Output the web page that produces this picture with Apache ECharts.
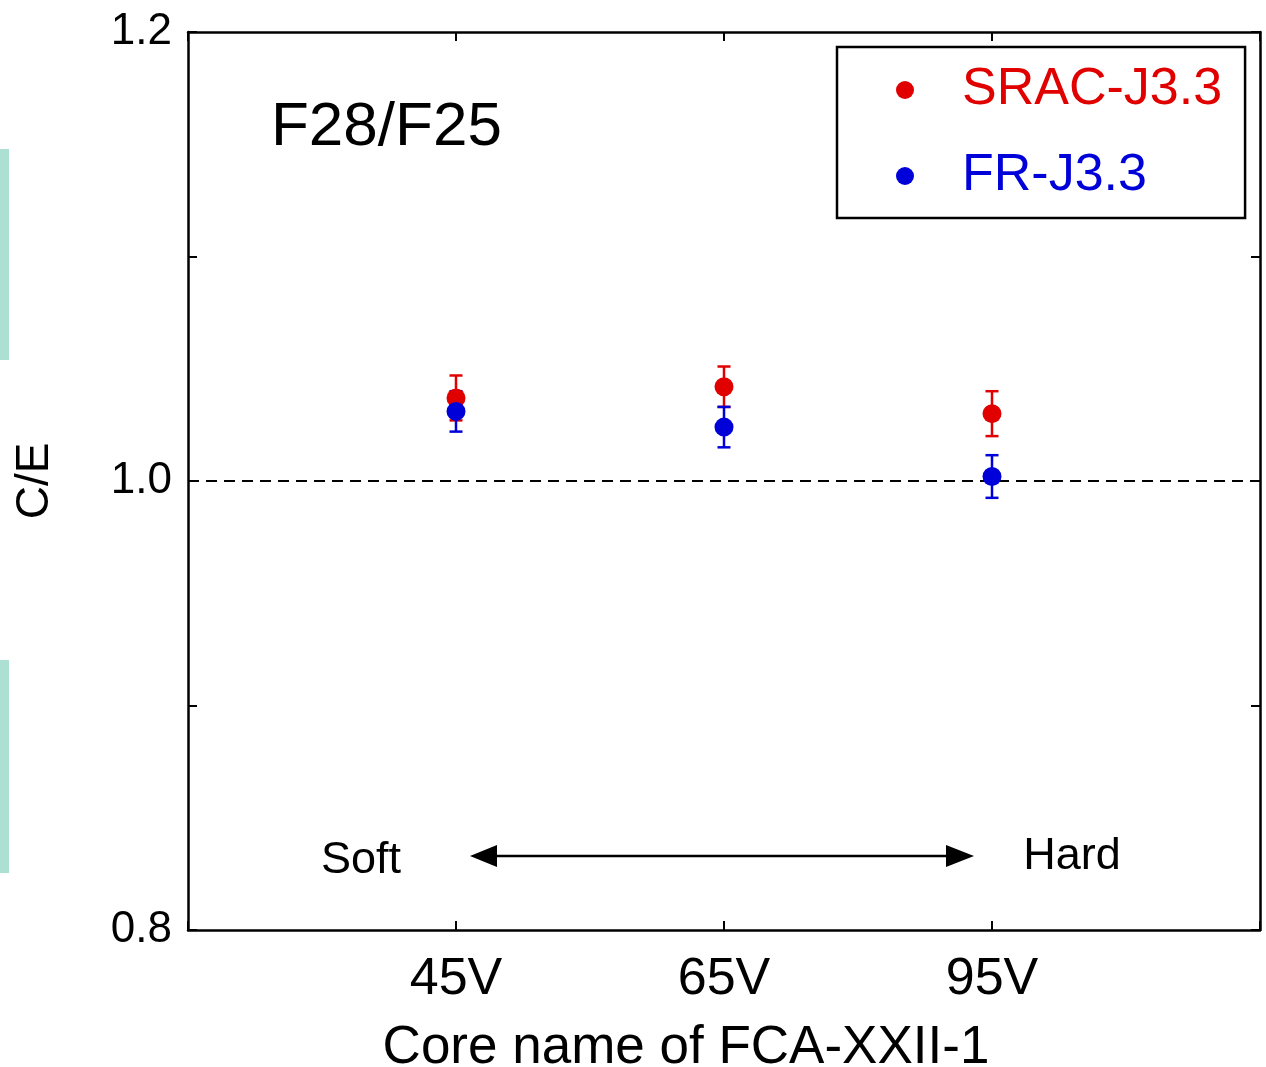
<!DOCTYPE html>
<html>
<head>
<meta charset="utf-8">
<script src="https://cdn.jsdelivr.net/npm/echarts@6/dist/echarts.min.js"></script>
<style>
  html, body { margin: 0; padding: 0; background: #fff; }
  #chart { width: 1266px; height: 1067px; }
</style>
</head>
<body>
<div id="chart"></div>
<script>
// Core names along the horizontal axis (placed at positions 1, 2, 3)
const categories = ['45V', '65V', '95V'];

// C/E of the F28/F25 fission rate ratio, with one-sigma uncertainties
const sracValues = [1.037, 1.042, 1.030];
const sracErrors = [0.010, 0.009, 0.010];
const frValues = [1.031, 1.024, 1.002];
const frErrors = [0.009, 0.009, 0.0095];

const seriesNames = ['SRAC-J3.3', 'FR-J3.3'];
const seriesColors = ['#e00000', '#0000d8'];

const FONT = '"Liberation Sans", Arial, Helvetica, sans-serif';

function points(values) {
  return values.map((v, i) => [i + 1, v]);
}
function bars(values, errors) {
  return values.map((v, i) => [i + 1, v - errors[i], v + errors[i]]);
}

function errorBarSeries(name, values, errors, color) {
  return {
    type: 'custom',
    name: name,
    silent: true,
    itemStyle: { color: color },
    data: bars(values, errors),
    encode: { x: 0, y: [1, 2] },
    renderItem: function (params, api) {
      const x = api.value(0);
      const lo = api.coord([x, api.value(1)]);
      const hi = api.coord([x, api.value(2)]);
      const half = 6.5;
      const style = { stroke: color, lineWidth: 2.5 };
      return {
        type: 'group',
        children: [
          { type: 'line', shape: { x1: lo[0], y1: lo[1], x2: hi[0], y2: hi[1] }, style: style },
          { type: 'line', shape: { x1: lo[0] - half, y1: lo[1], x2: lo[0] + half, y2: lo[1] }, style: style },
          { type: 'line', shape: { x1: hi[0] - half, y1: hi[1], x2: hi[0] + half, y2: hi[1] }, style: style }
        ]
      };
    }
  };
}

function pointSeries(name, values, color, withRefLine) {
  const s = {
    type: 'scatter',
    name: name,
    data: points(values),
    symbol: 'circle',
    symbolSize: 19,
    itemStyle: { color: color, opacity: 1 },
    emphasis: { disabled: true }
  };
  if (withRefLine) {
    s.markLine = {
      silent: true,
      symbol: 'none',
      label: { show: false },
      lineStyle: { color: '#000', width: 2, type: [11, 7] },
      data: [{ yAxis: 1.0 }],
      z: 1
    };
  }
  return s;
}

const axisLine = { show: true, onZero: false, lineStyle: { color: '#000', width: 2.5 } };
const axisTick = { show: true, inside: true, length: 9, lineStyle: { color: '#000', width: 2 } };

const chart = echarts.init(document.getElementById('chart'), null, { renderer: 'canvas' });

chart.setOption({
  animation: false,
  backgroundColor: '#fff',
  grid: { left: 188, top: 32, right: 6, bottom: 137, containLabel: false, outerBoundsMode: 'none' },
  xAxis: [
    {
      type: 'value',
      min: 0, max: 4, interval: 1,
      position: 'bottom',
      axisLine: axisLine,
      axisTick: axisTick,
      splitLine: { show: false },
      axisLabel: {
        margin: 24,
        color: '#000',
        fontFamily: FONT,
        fontSize: 52,
        formatter: v => categories[v - 1] || ''
      },
      name: 'Core name of FCA-XXII-1',
      nameLocation: 'middle',
      nameGap: 92,
      nameTextStyle: { color: '#000', fontFamily: FONT, fontSize: 53, padding: [0, 76, 0, 0] }
    },
    {
      type: 'value',
      min: 0, max: 4, interval: 1,
      position: 'top',
      axisLine: axisLine,
      axisTick: axisTick,
      axisLabel: { show: false },
      splitLine: { show: false }
    }
  ],
  yAxis: [
    {
      type: 'value',
      min: 0.8, max: 1.2, interval: 0.1,
      position: 'left',
      axisLine: axisLine,
      axisTick: axisTick,
      splitLine: { show: false },
      axisLabel: {
        margin: 16,
        color: '#000',
        fontFamily: FONT,
        fontSize: 44,
        formatter: v => (Math.round(v * 10) % 2 === 0 ? v.toFixed(1) : '')
      },
      name: 'C/E',
      nameLocation: 'middle',
      nameGap: 130,
      nameTextStyle: { color: '#000', fontFamily: FONT, fontSize: 46 }
    },
    {
      type: 'value',
      min: 0.8, max: 1.2, interval: 0.1,
      position: 'right',
      axisLine: axisLine,
      axisTick: axisTick,
      axisLabel: { show: false },
      splitLine: { show: false }
    }
  ],
  legend: {
    orient: 'vertical',
    left: 837,
    top: 47,
    padding: [17, 23, 16, 59],
    itemGap: 34,
    itemWidth: 18,
    itemHeight: 18,
    icon: 'circle',
    borderColor: '#000',
    borderWidth: 2.5,
    selectedMode: false,
    textStyle: { fontFamily: FONT, fontSize: 52, padding: [0, 0, 0, 43], lineHeight: 52 },
    data: seriesNames.map((n, i) => ({
      name: n,
      itemStyle: { color: seriesColors[i] },
      textStyle: { color: seriesColors[i] }
    }))
  },
  graphic: [
    // pale bars along the left margin
    { type: 'rect', shape: { x: 0, y: 149, width: 9, height: 211 }, style: { fill: '#abe0d3' } },
    { type: 'rect', shape: { x: 0, y: 660, width: 9, height: 213 }, style: { fill: '#abe0d3' } },
    // panel label
    { type: 'text', style: { x: 271, y: 128, text: 'F28/F25', font: '62px ' + FONT, fill: '#000', textVerticalAlign: 'middle' } },
    // spectrum hardness annotation
    { type: 'text', style: { x: 361, y: 861, text: 'Soft', font: '45px ' + FONT, fill: '#000', textAlign: 'center', textVerticalAlign: 'middle' } },
    { type: 'text', style: { x: 1072, y: 857, text: 'Hard', font: '45px ' + FONT, fill: '#000', textAlign: 'center', textVerticalAlign: 'middle' } },
    { type: 'line', shape: { x1: 494, y1: 856, x2: 948, y2: 856 }, style: { stroke: '#000', lineWidth: 2.5 } },
    { type: 'polygon', shape: { points: [[470, 856], [497, 845], [497, 867]] }, style: { fill: '#000' } },
    { type: 'polygon', shape: { points: [[974, 856], [946, 845], [946, 867]] }, style: { fill: '#000' } }
  ],
  series: [
    errorBarSeries(seriesNames[0], sracValues, sracErrors, seriesColors[0]),
    pointSeries(seriesNames[0], sracValues, seriesColors[0], true),
    errorBarSeries(seriesNames[1], frValues, frErrors, seriesColors[1]),
    pointSeries(seriesNames[1], frValues, seriesColors[1], false)
  ]
});
</script>
</body>
</html>
